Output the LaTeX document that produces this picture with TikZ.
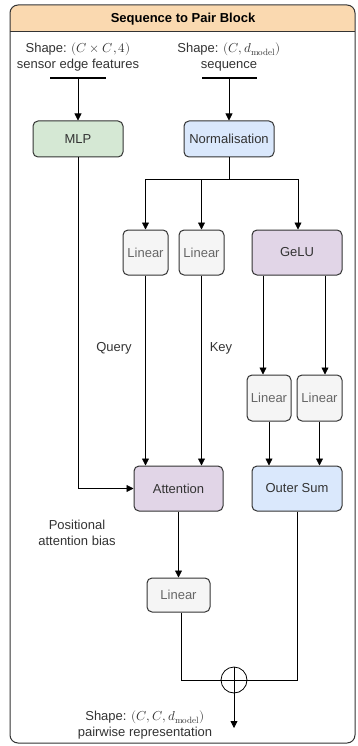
\documentclass[tikz,border=0pt]{standalone}
\usepackage{amsmath}
\usepackage{fontspec}
\usepackage{unicode-math}
\setmainfont{Liberation Sans}
\setmathfont{Latin Modern Math}
\usepackage{xcolor}
\usepackage{tikz}
\usetikzlibrary{positioning, shapes.geometric, arrows.meta}

\definecolor{hdrfill}{HTML}{FAD9B0}
\definecolor{greenfill}{HTML}{D5E8D4}
\definecolor{bluefill}{HTML}{DAE8FC}
\definecolor{purplefill}{HTML}{E1D5E7}
\definecolor{grayfill}{HTML}{F5F5F5}
\definecolor{inkdark}{HTML}{333333}
\definecolor{inkgray}{HTML}{666666}

\begin{document}
\begin{tikzpicture}[x=1pt, y=-1pt, >={Triangle[length=7pt,width=7pt]},
  every node/.style={font=\fontsize{13}{16}\selectfont, text=inkdark}]

% Define block styles
\tikzstyle{block} = [draw=inkdark, line width=1pt, rectangle, rounded corners=5pt, align=center, inner sep=0pt]
\tikzstyle{linblock} = [block, fill=grayfill, minimum width=45pt, minimum height=45pt, text=inkgray]
\tikzstyle{conn} = [line width=0.8pt, draw=black]
\tikzstyle{label} = [align=center, inner sep=0pt]

\useasboundingbox (0,0) rectangle (357,746);

% Frame and header
\begin{scope}
  \clip[rounded corners=8pt] (10,5) rectangle (355,743);
  \fill[hdrfill] (10,5) rectangle (355,32);
\end{scope}
\draw[line width=1pt, inkdark] (10,32) -- (355,32);
\draw[line width=1pt, inkdark, rounded corners=8pt] (10,5) rectangle (355,743);
\node[label, font=\fontsize{13}{16}\selectfont\bfseries, text=black] (title) at (183,19) {Sequence to Pair Block};

% Inputs
\node[label] (edgein) at (78,57) {Shape: $(C\times C,4)$\\sensor edge features};
\node[label] (seqin) at (229,57) {Shape: $(C,d_{\symup{model}})$\\sequence};
\coordinate (bar1) at (78,78);
\coordinate (bar2) at (229,78);

% Nodes
\node[block, fill=greenfill, minimum width=90pt, minimum height=36pt] (mlp) at (78,139) {MLP};
\node[block, fill=bluefill, minimum width=90pt, minimum height=36pt] (norm) at (229,139) {Normalisation};
\coordinate (split) at (229,179);
\node[linblock] (lin1) at (145.5,252.5) {Linear};
\node[linblock] (lin2) at (201.5,252.5) {Linear};
\node[block, fill=purplefill, minimum width=90pt, minimum height=45pt] (gelu) at (297,252.5) {GeLU};
\node[linblock, minimum width=44pt, minimum height=46pt] (lin3) at (269,398) {Linear};
\node[linblock, minimum height=46pt] (lin4) at (319.5,398) {Linear};
\node[block, fill=purplefill, minimum width=89pt, minimum height=45pt] (attn) at (178.5,488.5) {Attention};
\node[block, fill=bluefill, minimum width=90pt, minimum height=45pt] (osum) at (297,488.5) {Outer Sum};
\node[linblock, minimum width=63pt, minimum height=34pt] (lin5) at (178.5,595) {Linear};
\node[draw=black, line width=0.8pt, circle, minimum size=26pt, inner sep=0pt] (add) at (234,680) {};
\coordinate (out) at (234,728);

% Labels
\node[label] (query) at (114,348) {Query};
\node[label] (key) at (221,348) {Key};
\node[label] (posbias) at (77,533) {Positional\\attention bias};
\node[label] (pairout) at (145,725) {Shape: $(C,C,d_{\symup{model}})$\\pairwise representation};

% Connections
\draw[conn, line width=1.2pt] ([xshift=-28pt]bar1) -- ([xshift=28pt]bar1); % input bars
\draw[conn, line width=1.2pt] ([xshift=-27pt]bar2) -- ([xshift=28pt]bar2);
\draw[conn, ->] (bar1) -- (mlp);
\draw[conn, ->] (bar2) -- (norm);
\draw[conn] (norm) -- (split);
\draw[conn, ->] (split) -| (lin1);
\draw[conn, ->] (split) -| (lin2);
\draw[conn, ->] (split) -| ([xshift=1pt]gelu.north);
\draw[conn, ->] ([xshift=-34pt]gelu.south) -- ([xshift=-34pt]gelu.south |- lin3.north);
\draw[conn, ->] ([xshift=28pt]gelu.south) -- ([xshift=28pt]gelu.south |- lin4.north);
\draw[conn, ->] (lin1) -- (lin1 |- attn.north);
\draw[conn, ->] (lin2) -- (lin2 |- attn.north);
\draw[conn, ->] (lin3) -- (lin3 |- osum.north);
\draw[conn, ->] (lin4) -- (lin4 |- osum.north);
\draw[conn, ->] (mlp) |- (attn); % positional bias into attention
\draw[conn, ->] (attn) -- (lin5);
\draw[conn] ([xshift=3pt]lin5.south) |- (add.west);
\draw[conn] (osum) |- (add.east);
\draw[conn] (add.north) -- (add.south) (add.west) -- (add.east); % plus sign
\draw[conn, ->] (add) -- (out);

\end{tikzpicture}
\end{document}
